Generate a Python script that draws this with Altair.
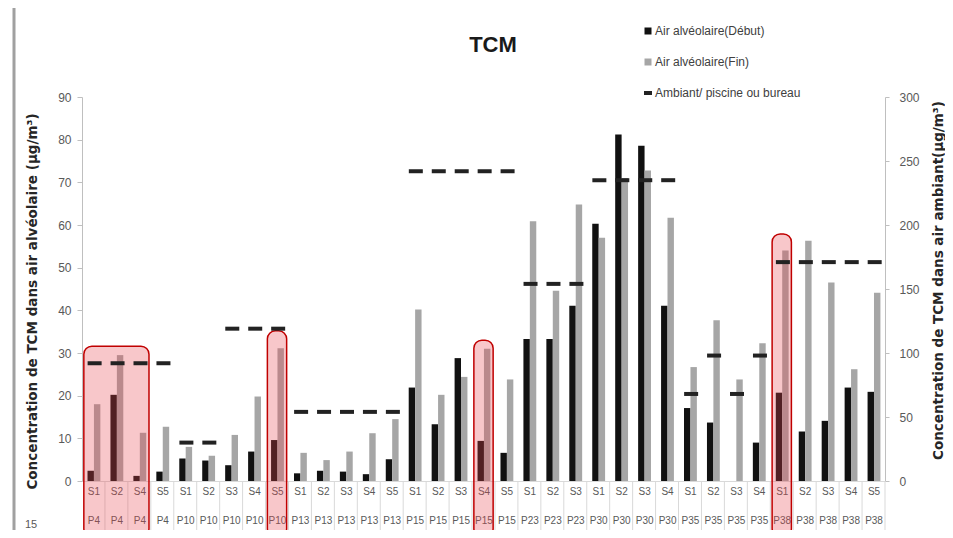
import json
import altair as alt
import pandas as pd

# ---------------- data ----------------
s_labels = ["S1", "S2", "S4", "S5",
            "S1", "S2", "S3", "S4", "S5",
            "S1", "S2", "S3", "S4", "S5",
            "S1", "S2", "S3", "S4", "S5",
            "S1", "S2", "S3",
            "S1", "S2", "S3", "S4",
            "S1", "S2", "S3", "S4",
            "S1", "S2", "S3", "S4", "S5"]
p_labels = (["P4"] * 4 + ["P10"] * 5 + ["P13"] * 5 + ["P15"] * 5 +
            ["P23"] * 3 + ["P30"] * 4 + ["P35"] * 4 + ["P38"] * 5)

debut = [2.4, 20.2, 1.2, 2.2,
         5.3, 4.8, 3.7, 6.9, 9.6,
         1.8, 2.4, 2.2, 1.6, 5.1,
         21.9, 13.3, 28.8, 9.4, 6.6,
         33.3, 33.3, 41.1,
         60.3, 81.2, 78.6, 41.1,
         17.1, 13.7, 0.0, 9.0,
         20.7, 11.6, 14.1, 21.9, 20.9]
fin = [18.0, 29.5, 11.3, 12.7,
       8.0, 5.9, 10.8, 19.8, 31.1,
       6.6, 4.9, 6.9, 11.2, 14.5,
       40.2, 20.2, 24.4, 31.0, 23.8,
       60.9, 44.6, 64.8,
       57.0, 71.0, 72.8, 61.7,
       26.7, 37.7, 23.8, 32.3,
       54.0, 56.3, 46.5, 26.2, 44.1]
ambiant = [92, 92, 92, 92,
           30, 30, 119, 119, 119,
           54, 54, 54, 54, 54,
           242, 242, 242, 242, 242,
           154, 154, 154,
           235, 235, 235, 235,
           68, 98, 68, 98,
           171, 171, 171, 171, 171]

# highlighted groups (first / last category index, top in left-axis units)
box_first = [0, 8, 17, 30]
box_last = [2, 8, 17, 30]
box_top = [31.6, 35.2, 33.0, 57.9]

LEG1 = "Air alvéolaire(Début)"
LEG2 = "Air alvéolaire(Fin)"
LEG3 = "Ambiant/ piscine ou bureau"

n = len(s_labels)
idx = list(range(n))

bar_rows = []
for i in idx:
    bar_rows.append({"i": i, "serie": LEG1, "value": debut[i], "base": 0, "x0": i - 0.26, "x1": i + 0.02})
    bar_rows.append({"i": i, "serie": LEG2, "value": fin[i], "base": 0, "x0": i + 0.02, "x1": i + 0.30})
bars_df = pd.DataFrame(bar_rows)

amb_df = pd.DataFrame({"xc": [i + 0.05 for i in idx], "value": ambiant, "serie": [LEG3] * n})

box_df = pd.DataFrame({
    "x0": [f - 0.42 for f in box_first],
    "x1": [l + 0.42 for l in box_last],
    "top": box_top,
    "bot": [-13] * len(box_top),
})

sep_df = pd.DataFrame({"x0": [i + 0.5 for i in idx], "top": [0] * n, "bot": [-13] * n})

# ---------------- scales / axes ----------------
xs = alt.Scale(domain=[-0.5, n - 0.5], nice=False, zero=False)
ysL = alt.Scale(domain=[0, 90], nice=False)
ysR = alt.Scale(domain=[0, 300], nice=False)

label_expr = "[" + json.dumps(s_labels) + "[datum.value], " + json.dumps(p_labels) + "[datum.value]]"

xaxis = alt.Axis(values=idx, labelExpr=label_expr, title=None, ticks=False,
                 domainColor="#d9d9d9", labelFontSize=10, labelColor="#595959",
                 labelLineHeight=29, labelPadding=5, labelOverlap=False,
                 labelAngle=0, grid=False, labelBaseline="top", labelAlign="center",
                 labelFlush=False)

yaxisL = alt.Axis(values=list(range(0, 91, 10)),
                  title="Concentration de TCM dans air alvéolaire  (µg/m³)",
                  titleFont="DejaVu Sans", titleFontSize=13.5, titleFontWeight="bold",
                  titleColor="#262626",
                  titleX=-50, titleY=204, titleAngle=270, titleAlign="center",
                  titleBaseline="middle",
                  labelFontSize=12, labelColor="#595959", labelPadding=6,
                  tickSize=5, tickColor="#bfbfbf", domainColor="#bfbfbf", grid=False)

yaxisR = alt.Axis(orient="right", values=list(range(0, 301, 50)),
                  title="Concentration de TCM dans air ambiant(µg/m³)",
                  titleFont="DejaVu Sans", titleFontSize=13.5, titleFontWeight="bold",
                  titleColor="#262626",
                  titleX=53, titleY=183, titleAngle=270, titleAlign="center",
                  titleBaseline="middle",
                  labelFontSize=12, labelColor="#595959", labelPadding=10,
                  tickSize=4, tickColor="#bfbfbf", domainColor="#bfbfbf", grid=False)

# ---------------- layers ----------------
bars = alt.Chart(bars_df).mark_rect().encode(
    x=alt.X("x0:Q", scale=xs, axis=xaxis),
    x2="x1:Q",
    y=alt.Y("value:Q", scale=ysL, axis=yaxisL),
    y2="base:Q",
    color=alt.Color("serie:N",
                    scale=alt.Scale(domain=[LEG1, LEG2], range=["#111111", "#a6a6a6"]),
                    legend=alt.Legend(orient="none", legendX=560, legendY=-72, title=None,
                                      symbolType="square", symbolSize=49,
                                      labelFontSize=12, labelColor="#404040",
                                      rowPadding=19, labelOffset=1)),
)

seps = alt.Chart(sep_df).mark_rule(color="#d9d9d9", strokeWidth=1).encode(
    x=alt.X("x0:Q", scale=xs, axis=xaxis),
    y=alt.Y("top:Q", scale=ysL, axis=yaxisL),
    y2="bot:Q",
)

boxes = alt.Chart(box_df).mark_rect(fill="#e8464f", fillOpacity=0.3, stroke="#c00000",
                                    strokeWidth=1.5, cornerRadius=8).encode(
    x=alt.X("x0:Q", scale=xs, axis=xaxis),
    x2="x1:Q",
    y=alt.Y("top:Q", scale=ysL, axis=yaxisL),
    y2="bot:Q",
)

title_txt = alt.Chart(pd.DataFrame({"t": ["TCM"]})).mark_text(
    fontSize=22, fontWeight="bold", color="#1a1a1a", align="center", baseline="middle"
).encode(x=alt.value(411), y=alt.value(-52), text="t:N")

slide_no = alt.Chart(pd.DataFrame({"t": ["15"]})).mark_text(
    fontSize=11, color="#595959", align="center", baseline="middle"
).encode(x=alt.value(-51), y=alt.value(428), text="t:N")

frame = alt.Chart(pd.DataFrame({"t": [0]})).mark_rule(color="#a0a0a0", strokeWidth=3).encode(
    x=alt.value(-68), y=alt.value(-89), y2=alt.value(433)
)

left = alt.layer(seps, bars, boxes, title_txt, slide_no, frame)

dashes = alt.Chart(amb_df).mark_tick(orient="horizontal", thickness=4, size=14, opacity=1).encode(
    x=alt.X("xc:Q", scale=xs, axis=xaxis),
    y=alt.Y("value:Q", scale=ysR, axis=yaxisR),
    color=alt.Color("serie:N",
                    scale=alt.Scale(domain=[LEG3], range=["#222222"]),
                    legend=alt.Legend(orient="none", legendX=560, legendY=-10, title=None,
                                      symbolType="stroke", symbolSize=64, symbolOpacity=1,
                                      symbolStrokeWidth=4, symbolStrokeColor="#222222",
                                      labelFontSize=12, labelColor="#404040", labelOffset=1)),
)

chart = alt.layer(left, dashes).resolve_scale(
    y="independent", color="independent"
).properties(
    width=803, height=384,
    padding={"left": 74, "top": 89, "right": 60, "bottom": 49},
    autosize=alt.AutoSizeParams(type="none"),
    background="white",
).configure(font="Liberation Sans").configure_view(strokeWidth=0)

chart.save("out.html", embed_options={"renderer": "svg", "actions": False})
